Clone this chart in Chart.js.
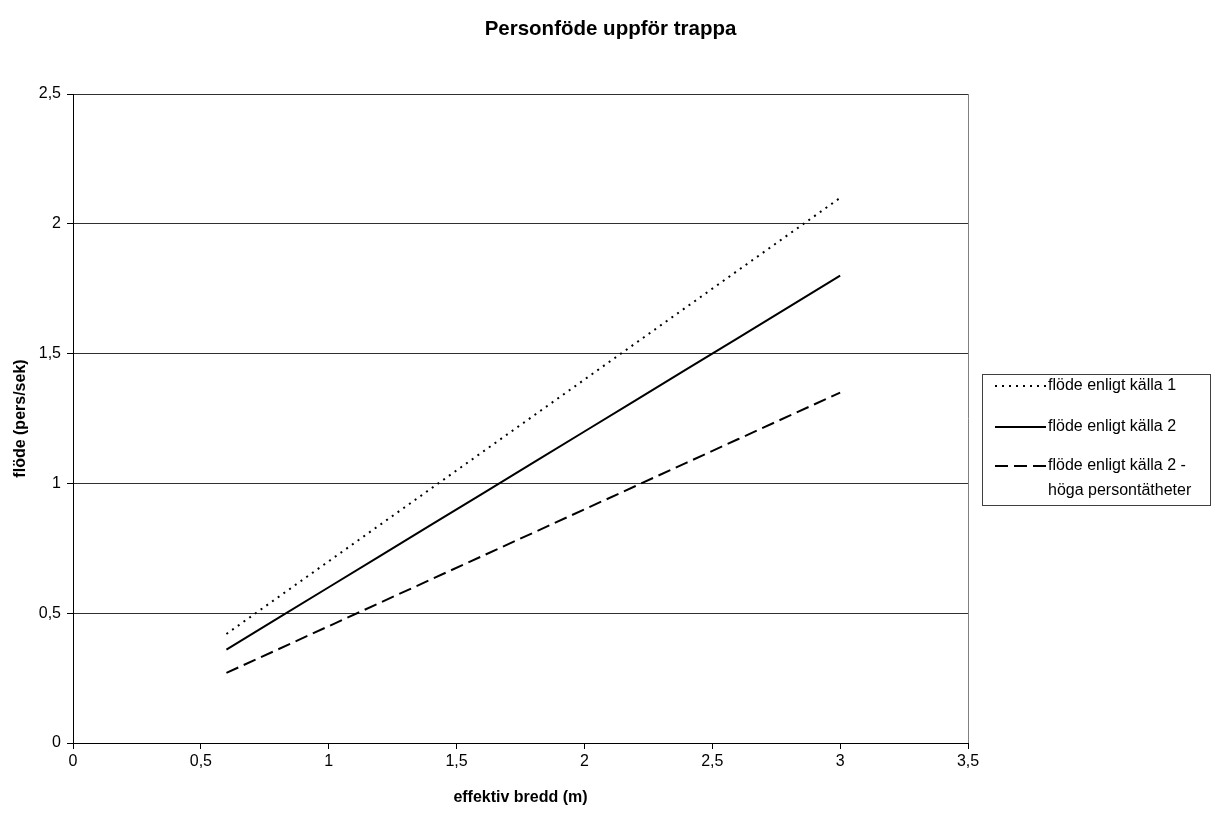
<!DOCTYPE html>
<html>
<head>
<meta charset="utf-8">
<script src="https://cdn.jsdelivr.net/npm/chart.js@4.4.1/dist/chart.umd.min.js"></script>
<style>
  html, body { margin: 0; background: #fff; }
  #wrap { width: 1215px; height: 821px; }
</style>
</head>
<body>
<div id="wrap"><canvas id="flowChart" width="1215" height="821"></canvas></div>
<script>
// effektiv bredd (m)
const widths = [0.6, 0.8, 1.0, 1.2, 1.4, 1.6, 1.8, 2.0, 2.2, 2.4, 2.6, 2.8, 3.0];
// flöde (pers/sek)
const flowSource1 = [0.42, 0.56, 0.70, 0.84, 0.98, 1.12, 1.26, 1.40, 1.54, 1.68, 1.82, 1.96, 2.10];
const flowSource2 = [0.36, 0.48, 0.60, 0.72, 0.84, 0.96, 1.08, 1.20, 1.32, 1.44, 1.56, 1.68, 1.80];
const flowSource2High = [0.27, 0.36, 0.45, 0.54, 0.63, 0.72, 0.81, 0.90, 0.99, 1.08, 1.17, 1.26, 1.35];

const seriesLabels = [
    ['flöde enligt källa 1'],
    ['flöde enligt källa 2'],
    ['flöde enligt källa 2 -', 'höga persontätheter']
];
const chartTitle = 'Personföde uppför trappa';
const xTitle = 'effektiv bredd (m)';
const yTitle = 'flöde (pers/sek)';

const FONT = "'Liberation Sans', Arial, sans-serif";
const commaNum = v => String(v).replace('.', ',');

function toPoints(ys) {
    return ys.map((y, i) => ({ x: widths[i], y: y }));
}

// title, right frame edge and the boxed legend
const extras = {
    id: 'extras',
    afterDraw(chart) {
        const ctx = chart.ctx;
        const area = chart.chartArea;
        ctx.save();

        ctx.fillStyle = '#000';
        ctx.font = 'bold 20.5px ' + FONT;
        ctx.textAlign = 'center';
        ctx.textBaseline = 'middle';
        ctx.fillText(chartTitle, chart.width / 2 + 3, 29);

        ctx.strokeStyle = '#808080';
        ctx.lineWidth = 1;
        ctx.beginPath();
        ctx.moveTo(area.right + 0.5, area.top);
        ctx.lineTo(area.right + 0.5, area.bottom);
        ctx.stroke();

        // legend box
        const lx = 982, ly = 374, lw = 228, lh = 131;
        ctx.strokeStyle = '#404040';
        ctx.strokeRect(lx + 0.5, ly + 0.5, lw, lh);

        const rows = [386, 427, 466];
        ctx.font = '16px ' + FONT;
        ctx.textAlign = 'left';
        chart.data.datasets.forEach((ds, i) => {
            const y = rows[i];
            ctx.strokeStyle = ds.borderColor;
            ctx.lineWidth = ds.borderWidth;
            ctx.setLineDash(ds.borderDash || []);
            ctx.beginPath();
            ctx.moveTo(995, y);
            ctx.lineTo(1046, y);
            ctx.stroke();
            ctx.setLineDash([]);
            ctx.fillStyle = '#000';
            seriesLabels[i].forEach((t, k) => ctx.fillText(t, 1048, y + k * 25));
        });
        ctx.restore();
    }
};

const ctx = document.getElementById('flowChart').getContext('2d');
const chart = new Chart(ctx, {
    type: 'line',
    data: {
        datasets: [
            {
                label: seriesLabels[0].join(' '),
                data: toPoints(flowSource1),
                borderColor: '#000',
                borderWidth: 2,
                borderDash: [2, 5]
            },
            {
                label: seriesLabels[1].join(' '),
                data: toPoints(flowSource2),
                borderColor: '#000',
                borderWidth: 2
            },
            {
                label: seriesLabels[2].join(' '),
                data: toPoints(flowSource2High),
                borderColor: '#000',
                borderWidth: 2,
                borderDash: [13, 6]
            }
        ]
    },
    options: {
        responsive: false,
        animation: false,
        devicePixelRatio: 1,
        elements: { point: { radius: 0 }, line: { tension: 0 } },
        layout: { padding: { top: 94, right: 247, left: 0, bottom: 0 } },
        plugins: {
            legend: { display: false },
            title: { display: false },
            tooltip: { enabled: false }
        },
        scales: {
            x: {
                type: 'linear',
                min: 0,
                max: 3.5,
                afterFit: s => { s.height = 78; },
                ticks: {
                    stepSize: 0.5,
                    color: '#000',
                    font: { family: FONT, size: 16 },
                    padding: 3,
                    maxRotation: 0,
                    callback: v => commaNum(v)
                },
                grid: { drawOnChartArea: false, tickLength: 6, tickColor: '#000' },
                border: { color: '#000', width: 1 },
                title: {
                    display: true,
                    text: xTitle,
                    color: '#000',
                    font: { family: FONT, size: 16, weight: 'bold' },
                    padding: { top: 4, bottom: 14 }
                }
            },
            y: {
                min: 0,
                max: 2.5,
                afterFit: s => { s.width = 73; },
                ticks: {
                    stepSize: 0.5,
                    color: '#000',
                    font: { family: FONT, size: 16 },
                    padding: 6,
                    callback: v => commaNum(v)
                },
                grid: { color: '#303030', lineWidth: 1, tickLength: 6, tickColor: '#000' },
                border: { color: '#000', width: 1 },
                title: {
                    display: true,
                    text: yTitle,
                    color: '#000',
                    font: { family: FONT, size: 16, weight: 'bold' },
                    padding: { top: 11, bottom: 0 }
                }
            }
        }
    },
    plugins: [extras]
});
</script>
</body>
</html>
